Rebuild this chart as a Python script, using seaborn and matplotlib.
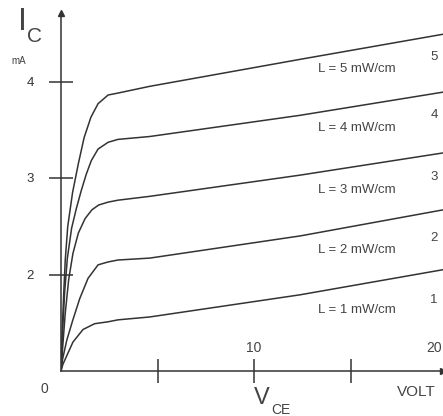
import numpy as np
import pandas as pd
import matplotlib
matplotlib.use("Agg")
import matplotlib.pyplot as plt
import seaborn as sns

# ---- data (V_CE in volt, I_C in mA) ----
levels = [1, 2, 3, 4, 5]
labels = ["L = 1 mW/cm", "L = 2 mW/cm", "L = 3 mW/cm", "L = 4 mW/cm", "L = 5 mW/cm"]

v1 = [0, 0.10, 0.28, 0.62, 1.14, 1.74, 2.44, 2.95, 4.6, 12.4, 19.8]
i1 = [1.0, 1.07, 1.15, 1.30, 1.43, 1.49, 1.51, 1.53, 1.56, 1.79, 2.05]

v2 = [0, 0.08, 0.30, 0.60, 0.97, 1.40, 1.92, 2.44, 2.95, 4.6, 12.4, 19.8]
i2 = [1.0, 1.12, 1.32, 1.52, 1.75, 1.96, 2.10, 2.13, 2.15, 2.17, 2.40, 2.67]

v3 = [0, 0.10, 0.22, 0.40, 0.62, 0.90, 1.25, 1.60, 1.95, 2.44, 2.95, 4.6, 12.4, 19.8]
i3 = [1.0, 1.28, 1.60, 1.95, 2.22, 2.43, 2.58, 2.67, 2.72, 2.75, 2.77, 2.81, 3.03, 3.26]

v4 = [0, 0.10, 0.19, 0.33, 0.55, 0.79, 1.05, 1.31, 1.57, 1.92, 2.44, 2.95, 4.6, 12.4, 19.8]
i4 = [1.0, 1.48, 1.82, 2.17, 2.48, 2.68, 2.87, 3.04, 3.18, 3.30, 3.37, 3.40, 3.43, 3.65, 3.89]

v5 = [0, 0.06, 0.14, 0.22, 0.35, 0.60, 0.90, 1.20, 1.55, 1.92, 2.44, 2.95, 4.6, 12.4, 19.8]
i5 = [1.0, 1.40, 1.80, 2.15, 2.50, 2.85, 3.15, 3.42, 3.63, 3.77, 3.86, 3.88, 3.95, 4.23, 4.49]

y_ticks = [2, 3, 4]
y_ticklabels = ["2", "3", "4"]
x_ticks = [5, 10, 15]

# ---- build long table ----
rows = []
for lv, vs, cs in zip(levels, [v1, v2, v3, v4, v5], [i1, i2, i3, i4, i5]):
    for v, c in zip(vs, cs):
        rows.append({"L": lv, "V": v, "I": c})
df = pd.DataFrame(rows)

sns.set_style("white")
plt.rcParams["font.family"] = ["Liberation Sans", "DejaVu Sans"]

W, H = 443, 416
fig = plt.figure(figsize=(W / 100, H / 100), dpi=100)
fig.patch.set_facecolor("white")

ox, oy = 61, 371          # pixel position of the axes origin
px_per_v, px_per_ma = 19.3, 96.5
ax = fig.add_axes([ox / W, (H - oy) / H, (W - ox) / W, (oy - 13) / H])
ax.set_facecolor("none")

line_col = "#333333"
sns.lineplot(data=df, x="V", y="I", units="L", estimator=None, sort=False,
             color=line_col, lw=1.1, legend=False, ax=ax)

ax.set_xlim(0, (W - ox) / px_per_v)
ax.set_ylim(1.0, 1.0 + (oy - 13) / px_per_ma)
ax.set_xlabel("")
ax.set_ylabel("")

for s in ["top", "right"]:
    ax.spines[s].set_visible(False)
for s in ["left", "bottom"]:
    ax.spines[s].set_color(line_col)
    ax.spines[s].set_linewidth(1.1)

ax.set_xticks(x_ticks)
ax.set_xticklabels([])
ax.set_yticks(y_ticks)
ax.set_yticklabels(y_ticklabels)
ax.tick_params(axis="both", which="major", bottom=True, left=True,
               direction="inout", length=17, width=1.1, color=line_col)
ax.tick_params(axis="y", labelsize=9.5, labelcolor="#333333", pad=11)

# axis arrowheads
ax.plot(0, 1, marker="^", color=line_col, ms=5, transform=ax.transAxes, clip_on=False)
ax.plot(1, 0, marker=">", color=line_col, ms=5, transform=ax.transAxes, clip_on=False)

# x labels above the axis
ax.text(10, 1.238, "10", ha="center", va="center", fontsize=10,
        color="#444444", clip_on=False)
ax.text(19.76, 1.238, "20", ha="right", va="center", fontsize=10,
        color="#444444", clip_on=False)
ax.text(-0.88, 0.81, "0", ha="center", va="center", fontsize=10,
        color="#444444", clip_on=False)

# curve labels
lab_y = [1.63, 2.25, 2.88, 3.52, 4.13]
num_y = [1.74, 2.38, 3.01, 3.65, 4.25]
for lv, lab, ly, ny in zip(levels, labels, lab_y, num_y):
    ax.text(15.34, ly, lab, ha="center", va="center", fontsize=9.5, color="#444444")
    ax.text(19.33, ny, str(lv), ha="center", va="center", fontsize=9.5, color="#444444")

# axis titles (figure pixel positions)
def ftext(x, y, s, **kw):
    fig.text(x / W, 1 - y / H, s, ha="center", va="center", color="#444444", **kw)

ftext(22.5, 22, "I", fontsize=23)
ftext(34.5, 36, "C", fontsize=15)
ftext(19, 61, "mA", fontsize=7)
ftext(262, 398, "V", fontsize=17)
ftext(281, 410, "CE", fontsize=10)
ftext(416, 392, "VOLT", fontsize=11)

fig.savefig("out.png", dpi=100, facecolor="white")
